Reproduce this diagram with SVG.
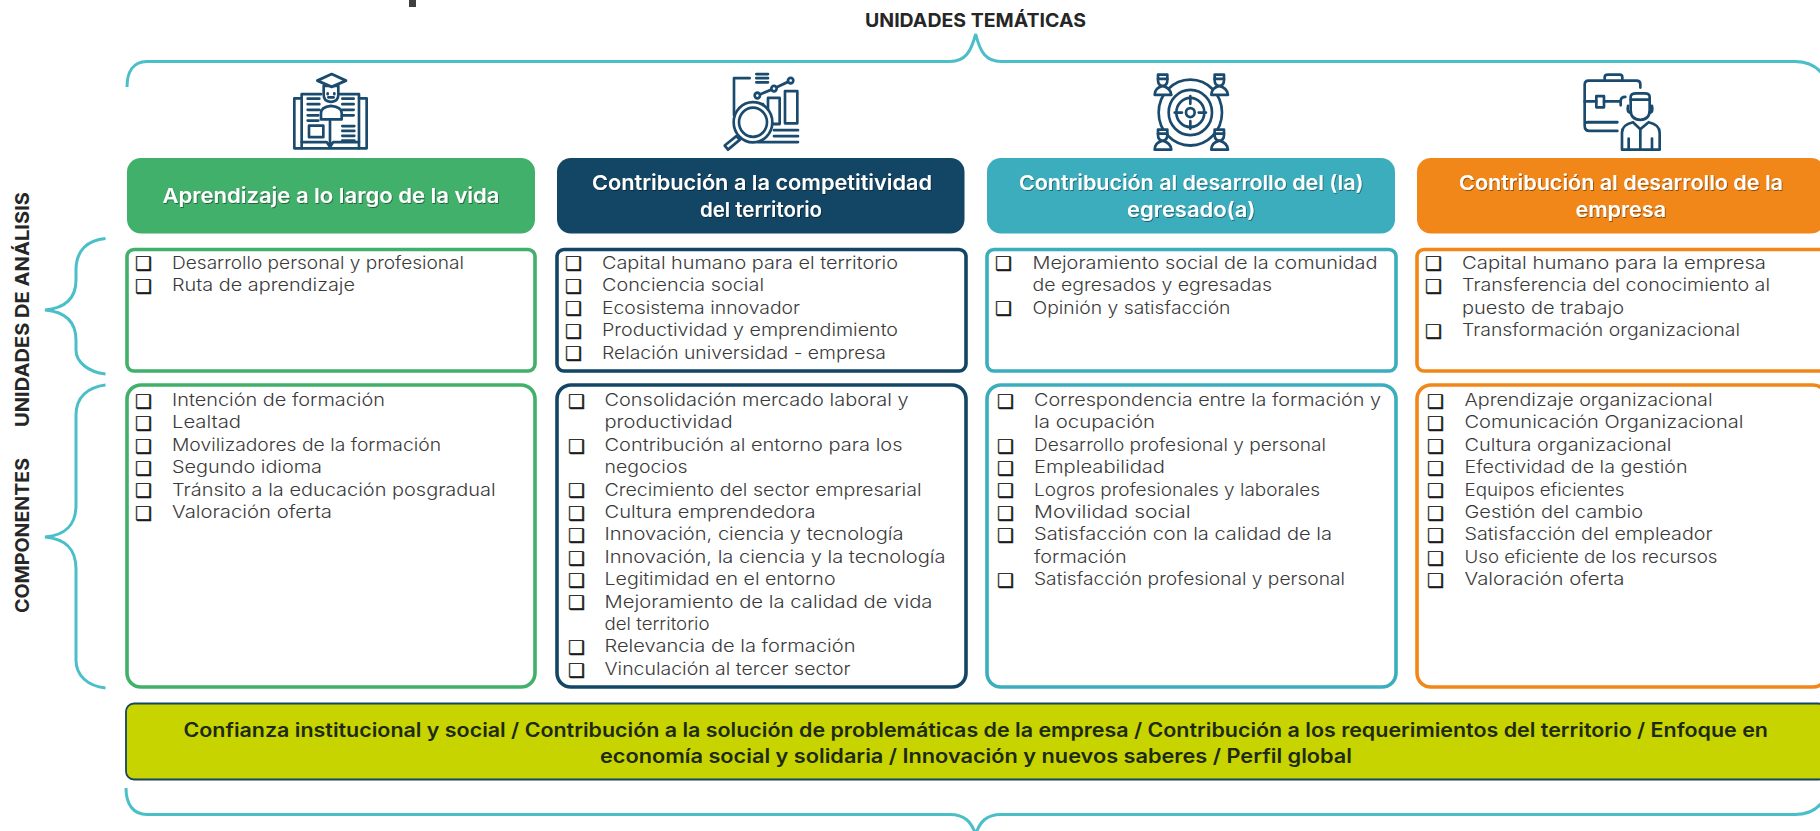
<svg xmlns="http://www.w3.org/2000/svg" width="1820" height="831" viewBox="0 0 1820 831">
<style>
text{font-family:Inter,"Liberation Sans",sans-serif}
.li{font-size:17.5px;font-weight:300;fill:#3a3a3a}
.bu{font-family:"DejaVu Sans",sans-serif;font-size:19px;fill:#1c1c1c;stroke:#1c1c1c;stroke-width:.35}
.hd{font-size:20.5px;font-weight:600;fill:#fff;filter:url(#ts)}
.lb{font-size:19px;font-weight:700;fill:#262626}
.lm{font-size:19.5px;font-weight:600;fill:#1d2a14}
.hdr{stroke:none}
.bx{fill:#fff;stroke-width:3.6}
.br{fill:none;stroke:#4abfc8;stroke-width:3}
.ic{fill:none;stroke:#1a4b6e;stroke-width:8;stroke-linecap:round;stroke-linejoin:round}
.icw{fill:#fff;stroke:#1a4b6e;stroke-width:8;stroke-linejoin:round}
.g{fill:#41b06a}.n{fill:#134564}.t{fill:#3badbd}.o{fill:#f28719}
.sg{stroke:#41b06a}.sn{stroke:#134564}.st{stroke:#3badbd}.so{stroke:#f28719}
</style>
<defs>
<filter id="ts" x="-5%" y="-20%" width="110%" height="150%"><feDropShadow dx="0.8" dy="1" stdDeviation="0.7" flood-color="#000" flood-opacity="0.45"/></filter>
<g id="person">
<path class="icw" d="M-24,28 Q-24,8 0,2 Q24,8 26,28 Z"/>
<path class="icw" d="M-14,-30 H14 V-14 Q14,2 0,2 Q-14,2 -14,-14 Z"/>
<path class="ic" d="M-14,-18 H14"/>
</g>
</defs>

<rect id="title-stem" x="409" y="0" width="7" height="7" fill="#404040"/>

<g id="connectors">
<path class="br" d="M127,87 C127,72 133,61.500 147,61.500 H950 C965,61.500 971,52 975.700,34 C980,52 986,61.500 1001,61.500 H1795 C1810,61.500 1820,68 1826,80"/>
<path class="br" d="M126,788 C126,804 133,814.500 147,814.500 H950 C965,814.500 971,822 975.700,834 C980,822 986,814.500 1001,814.500 H1795 C1810,814.500 1820,808 1826,796"/>
<path class="br" d="M105.500,238.500 C88,240 76,250 76,270 V280 C76,298 66,308 45,310 C66,312 76,322 76,340 V350 C76,362 88,372 105.500,374"/>
<path class="br" d="M105.500,385 C88,387 76,397 76,415 V505 C76,525 66,535 45,537 C66,539 76,549 76,569 V660 C76,676 88,686 105.500,688"/>
</g>

<text id="label-top" class="lb" x="865" y="26.500" textLength="221" lengthAdjust="spacingAndGlyphs">UNIDADES TEMÁTICAS</text>
<text id="label-left-1" class="lb" transform="translate(29 427) rotate(-90)" textLength="235" lengthAdjust="spacingAndGlyphs">UNIDADES DE ANÁLISIS</text>
<text id="label-left-2" class="lb" transform="translate(29 613) rotate(-90)" textLength="155" lengthAdjust="spacingAndGlyphs">COMPONENTES</text>

<g id="icon-1" transform="translate(285 65) scale(.3333 .347)">
<path class="ic" d="M50,96 H28 V240 H245 V96 H222"/>
<path class="ic" d="M50,240 V84 H108 M165,84 H222 V240"/>
<path class="ic" d="M50,222 H125 L135,236 L145,222 H222 M135,160 V236"/>
<path class="ic" d="M68,97 H103 M68,113 H103 M68,129 H103 M68,145 H100 M68,160 H100 M172,97 H206 M172,113 H206 M172,129 H206 M172,145 H206 M172,176 H208 M172,190 H208 M172,204 H208 M172,218 H208"/>
<rect class="ic" x="72" y="175" width="43" height="33"/>
<path class="icw" d="M108,157 V138 Q108,122 138,118 Q170,122 170,138 V157 Z"/>
<path class="icw" d="M116,60 V86 Q116,106 138,106 Q160,106 160,86 V60 Z"/>
<path class="icw" d="M97,45 L140,26 L183,45 L140,63 Z"/>
<path class="ic" d="M128,82 V84 M148,82 V84 M130,93 H146"/>
</g>

<g id="icon-2" transform="translate(718 65) scale(.3333 .347)">
<path class="ic" d="M95,38 H48 V145 M115,26 H150 M115,38 H150 M115,50 H150"/>
<path class="ic" d="M118,88 L168,68 L218,45"/>
<circle class="icw" cx="118" cy="88" r="8"/><circle class="icw" cx="168" cy="68" r="8"/><circle class="icw" cx="218" cy="45" r="8"/>
<rect class="ic" x="150" y="95" width="35" height="75"/>
<rect class="ic" x="201" y="75" width="37" height="93"/>
<rect class="ic" x="98" y="113" width="37" height="30"/>
<path class="ic" d="M168,188 H240 M168,205 H240 M120,222 H240"/>
<path class="icw" d="M55,205 L20,232 L30,244 L66,215 Z"/>
<circle class="icw" cx="105" cy="165" r="58"/>
<circle class="ic" cx="105" cy="165" r="42"/>
</g>

<g id="icon-3" transform="translate(1146 65) scale(.3333 .347)">
<circle class="ic" cx="133" cy="137" r="95"/>
<circle class="ic" cx="133" cy="137" r="65"/>
<circle class="ic" cx="133" cy="137" r="42"/>
<circle class="ic" cx="133" cy="137" r="13"/>
<path class="ic" d="M133,90 V112 M133,162 V184 M86,137 H108 M158,137 H180"/>
<use href="#person" transform="translate(50 58)"/>
<use href="#person" transform="translate(220 58)"/>
<use href="#person" transform="translate(50 216)"/>
<use href="#person" transform="translate(220 216)"/>
</g>

<g id="icon-4" transform="translate(1578 65) scale(.3333 .347)">
<path class="ic" d="M80,45 V35 Q80,28 90,28 H125 Q133,28 133,35 V45"/>
<path class="ic" d="M187,65 V55 Q187,45 175,45 H32 Q20,45 20,57 V175 Q20,190 35,190 H118 M20,170 Q20,165 30,165 H118"/>
<path class="ic" d="M20,105 H55 M78,105 H125 M142,92 Q128,92 128,105 V116"/>
<rect class="ic" x="55" y="90" width="23" height="32"/>
<path class="ic" d="M150,118 Q146,135 158,138 M222,118 Q226,135 215,138"/>
<path class="ic" d="M158,100 V130 Q158,158 187,158 Q215,158 215,130 V100"/>
<path class="ic" d="M158,100 V92 Q158,82 175,82 H200 Q215,82 215,92 V100 Z"/>
<path class="icw" d="M132,244 V195 Q132,172 165,165 L187,185 L212,165 Q245,172 245,195 V244 Z"/>
<path class="ic" d="M152,212 V244 M222,212 V244 M187,188 V244"/>
</g>

<g id="header-1"><rect class="hdr g" x="127" y="158" width="408" height="75.500" rx="14"/>
<text class="hd" x="162.500" y="203" textLength="337" lengthAdjust="spacingAndGlyphs">Aprendizaje a lo largo de la vida</text></g>
<g id="header-2"><rect class="hdr n" x="557" y="158" width="407.500" height="75.500" rx="14"/>
<text class="hd" x="592" y="190" textLength="340" lengthAdjust="spacingAndGlyphs">Contribución a la competitividad</text>
<text class="hd" x="700" y="216.500" textLength="122" lengthAdjust="spacingAndGlyphs">del territorio</text></g>
<g id="header-3"><rect class="hdr t" x="987" y="158" width="408" height="75.500" rx="14"/>
<text class="hd" x="1019" y="190" textLength="344.500" lengthAdjust="spacingAndGlyphs">Contribución al desarrollo del (la)</text>
<text class="hd" x="1127" y="216.500" textLength="128.500" lengthAdjust="spacingAndGlyphs">egresado(a)</text></g>
<g id="header-4"><rect class="hdr o" x="1417" y="158" width="408" height="75.500" rx="14"/>
<text class="hd" x="1459" y="190" textLength="324" lengthAdjust="spacingAndGlyphs">Contribución al desarrollo de la</text>
<text class="hd" x="1575.500" y="216.500" textLength="90.500" lengthAdjust="spacingAndGlyphs">empresa</text></g>

<g id="unidades-1"><rect class="bx sg" x="127" y="249.500" width="408" height="121.500" rx="7"/>
<text class="bu" x="135" y="270">❑</text><text class="li" x="172" y="268.500" textLength="292" lengthAdjust="spacingAndGlyphs">Desarrollo personal y profesional</text>
<text class="bu" x="135" y="292.500">❑</text><text class="li" x="172" y="291" textLength="183" lengthAdjust="spacingAndGlyphs">Ruta de aprendizaje</text></g>

<g id="unidades-2"><rect class="bx sn" x="557" y="249.500" width="409" height="121.500" rx="7"/>
<text class="bu" x="565" y="270">❑</text><text class="li" x="602" y="268.500" textLength="296" lengthAdjust="spacingAndGlyphs">Capital humano para el territorio</text>
<text class="bu" x="565" y="292.500">❑</text><text class="li" x="602" y="291" textLength="162" lengthAdjust="spacingAndGlyphs">Conciencia social</text>
<text class="bu" x="565" y="315">❑</text><text class="li" x="602" y="313.500" textLength="198" lengthAdjust="spacingAndGlyphs">Ecosistema innovador</text>
<text class="bu" x="565" y="337.500">❑</text><text class="li" x="602" y="336" textLength="296" lengthAdjust="spacingAndGlyphs">Productividad y emprendimiento</text>
<text class="bu" x="565" y="360">❑</text><text class="li" x="602" y="358.500" textLength="284" lengthAdjust="spacingAndGlyphs">Relación universidad - empresa</text></g>

<g id="unidades-3"><rect class="bx st" x="987" y="249.500" width="409" height="121.500" rx="7"/>
<text class="bu" x="995" y="270">❑</text><text class="li" x="1032.500" y="268.500" textLength="345" lengthAdjust="spacingAndGlyphs">Mejoramiento social de la comunidad</text>
<text class="li" x="1032.500" y="291" textLength="239.500" lengthAdjust="spacingAndGlyphs">de egresados y egresadas</text>
<text class="bu" x="995" y="315">❑</text><text class="li" x="1032.500" y="313.500" textLength="198" lengthAdjust="spacingAndGlyphs">Opinión y satisfacción</text></g>

<g id="unidades-4"><rect class="bx so" x="1417" y="249.500" width="410" height="121.500" rx="7"/>
<text class="bu" x="1425" y="270">❑</text><text class="li" x="1462" y="268.500" textLength="304" lengthAdjust="spacingAndGlyphs">Capital humano para la empresa</text>
<text class="bu" x="1425" y="292.500">❑</text><text class="li" x="1462" y="291" textLength="308" lengthAdjust="spacingAndGlyphs">Transferencia del conocimiento al</text>
<text class="li" x="1462" y="313.500" textLength="162" lengthAdjust="spacingAndGlyphs">puesto de trabajo</text>
<text class="bu" x="1425" y="337.500">❑</text><text class="li" x="1462" y="336" textLength="278" lengthAdjust="spacingAndGlyphs">Transformación organizacional</text></g>

<g id="componentes-1"><rect class="bx sg" x="127" y="385" width="408" height="302" rx="14"/>
<text class="bu" x="135" y="407.500">❑</text><text class="li" x="172" y="406" textLength="213" lengthAdjust="spacingAndGlyphs">Intención de formación</text>
<text class="bu" x="135" y="430">❑</text><text class="li" x="172" y="428.400" textLength="69" lengthAdjust="spacingAndGlyphs">Lealtad</text>
<text class="bu" x="135" y="452.500">❑</text><text class="li" x="172" y="450.800" textLength="269" lengthAdjust="spacingAndGlyphs">Movilizadores de la formación</text>
<text class="bu" x="135" y="475">❑</text><text class="li" x="172" y="473.200" textLength="150" lengthAdjust="spacingAndGlyphs">Segundo idioma</text>
<text class="bu" x="135" y="497">❑</text><text class="li" x="172" y="495.600" textLength="323.700" lengthAdjust="spacingAndGlyphs">Tránsito a la educación posgradual</text>
<text class="bu" x="135" y="519.500">❑</text><text class="li" x="172" y="518" textLength="160" lengthAdjust="spacingAndGlyphs">Valoración oferta</text></g>

<g id="componentes-2"><rect class="bx sn" x="557" y="385" width="409" height="302" rx="14"/>
<text class="bu" x="568" y="407.500">❑</text><text class="li" x="604.500" y="406" textLength="304" lengthAdjust="spacingAndGlyphs">Consolidación mercado laboral y</text>
<text class="li" x="604.500" y="428.400" textLength="128" lengthAdjust="spacingAndGlyphs">productividad</text>
<text class="bu" x="568" y="452.500">❑</text><text class="li" x="604.500" y="450.800" textLength="298" lengthAdjust="spacingAndGlyphs">Contribución al entorno para los</text>
<text class="li" x="604.500" y="473.200" textLength="83" lengthAdjust="spacingAndGlyphs">negocios</text>
<text class="bu" x="568" y="497">❑</text><text class="li" x="604.500" y="495.600" textLength="317" lengthAdjust="spacingAndGlyphs">Crecimiento del sector empresarial</text>
<text class="bu" x="568" y="519.500">❑</text><text class="li" x="604.500" y="518" textLength="211" lengthAdjust="spacingAndGlyphs">Cultura emprendedora</text>
<text class="bu" x="568" y="542">❑</text><text class="li" x="604.500" y="540.400" textLength="299" lengthAdjust="spacingAndGlyphs">Innovación, ciencia y tecnología</text>
<text class="bu" x="568" y="564.500">❑</text><text class="li" x="604.500" y="562.800" textLength="341" lengthAdjust="spacingAndGlyphs">Innovación, la ciencia y la tecnología</text>
<text class="bu" x="568" y="587">❑</text><text class="li" x="604.500" y="585.200" textLength="231" lengthAdjust="spacingAndGlyphs">Legitimidad en el entorno</text>
<text class="bu" x="568" y="609">❑</text><text class="li" x="604.500" y="607.600" textLength="328" lengthAdjust="spacingAndGlyphs">Mejoramiento de la calidad de vida</text>
<text class="li" x="604.500" y="630" textLength="105" lengthAdjust="spacingAndGlyphs">del territorio</text>
<text class="bu" x="568" y="654">❑</text><text class="li" x="604.500" y="652.400" textLength="251" lengthAdjust="spacingAndGlyphs">Relevancia de la formación</text>
<text class="bu" x="568" y="676.500">❑</text><text class="li" x="604.500" y="674.800" textLength="246" lengthAdjust="spacingAndGlyphs">Vinculación al tercer sector</text></g>

<g id="componentes-3"><rect class="bx st" x="987" y="385" width="409" height="302" rx="14"/>
<text class="bu" x="997" y="407.500">❑</text><text class="li" x="1034" y="406" textLength="347" lengthAdjust="spacingAndGlyphs">Correspondencia entre la formación y</text>
<text class="li" x="1034" y="428.400" textLength="121" lengthAdjust="spacingAndGlyphs">la ocupación</text>
<text class="bu" x="997" y="452.500">❑</text><text class="li" x="1034" y="450.800" textLength="292" lengthAdjust="spacingAndGlyphs">Desarrollo profesional y personal</text>
<text class="bu" x="997" y="475">❑</text><text class="li" x="1034" y="473.200" textLength="131" lengthAdjust="spacingAndGlyphs">Empleabilidad</text>
<text class="bu" x="997" y="497">❑</text><text class="li" x="1034" y="495.600" textLength="286" lengthAdjust="spacingAndGlyphs">Logros profesionales y laborales</text>
<text class="bu" x="997" y="519.500">❑</text><text class="li" x="1034" y="518" textLength="156.600" lengthAdjust="spacingAndGlyphs">Movilidad social</text>
<text class="bu" x="997" y="542">❑</text><text class="li" x="1034" y="540.400" textLength="298" lengthAdjust="spacingAndGlyphs">Satisfacción con la calidad de la</text>
<text class="li" x="1034" y="562.800" textLength="92.700" lengthAdjust="spacingAndGlyphs">formación</text>
<text class="bu" x="997" y="587">❑</text><text class="li" x="1034" y="585.200" textLength="311" lengthAdjust="spacingAndGlyphs">Satisfacción profesional y personal</text></g>

<g id="componentes-4"><rect class="bx so" x="1417" y="385" width="410" height="302" rx="14"/>
<text class="bu" x="1427" y="407.500">❑</text><text class="li" x="1464.500" y="406" textLength="248" lengthAdjust="spacingAndGlyphs">Aprendizaje organizacional</text>
<text class="bu" x="1427" y="430">❑</text><text class="li" x="1464.500" y="428.400" textLength="279" lengthAdjust="spacingAndGlyphs">Comunicación Organizacional</text>
<text class="bu" x="1427" y="452.500">❑</text><text class="li" x="1464.500" y="450.800" textLength="207" lengthAdjust="spacingAndGlyphs">Cultura organizacional</text>
<text class="bu" x="1427" y="475">❑</text><text class="li" x="1464.500" y="473.200" textLength="223" lengthAdjust="spacingAndGlyphs">Efectividad de la gestión</text>
<text class="bu" x="1427" y="497">❑</text><text class="li" x="1464.500" y="495.600" textLength="160" lengthAdjust="spacingAndGlyphs">Equipos eficientes</text>
<text class="bu" x="1427" y="519.500">❑</text><text class="li" x="1464.500" y="518" textLength="178.600" lengthAdjust="spacingAndGlyphs">Gestión del cambio</text>
<text class="bu" x="1427" y="542">❑</text><text class="li" x="1464.500" y="540.400" textLength="248" lengthAdjust="spacingAndGlyphs">Satisfacción del empleador</text>
<text class="bu" x="1427" y="564.500">❑</text><text class="li" x="1464.500" y="562.800" textLength="253" lengthAdjust="spacingAndGlyphs">Uso eficiente de los recursos</text>
<text class="bu" x="1427" y="587">❑</text><text class="li" x="1464.500" y="585.200" textLength="160" lengthAdjust="spacingAndGlyphs">Valoración oferta</text></g>

<g id="band"><rect x="126" y="703.500" width="1700" height="76" rx="8" fill="#c8d400" stroke="#134564" stroke-width="1.800"/>
<text class="lm" x="183.500" y="736.500" textLength="1584.500" lengthAdjust="spacingAndGlyphs">Confianza institucional y social / Contribución a la solución de problemáticas de la empresa / Contribución a los requerimientos del territorio / Enfoque en</text>
<text class="lm" x="600" y="762.500" textLength="752" lengthAdjust="spacingAndGlyphs">economía social y solidaria / Innovación y nuevos saberes / Perfil global</text></g>
</svg>
